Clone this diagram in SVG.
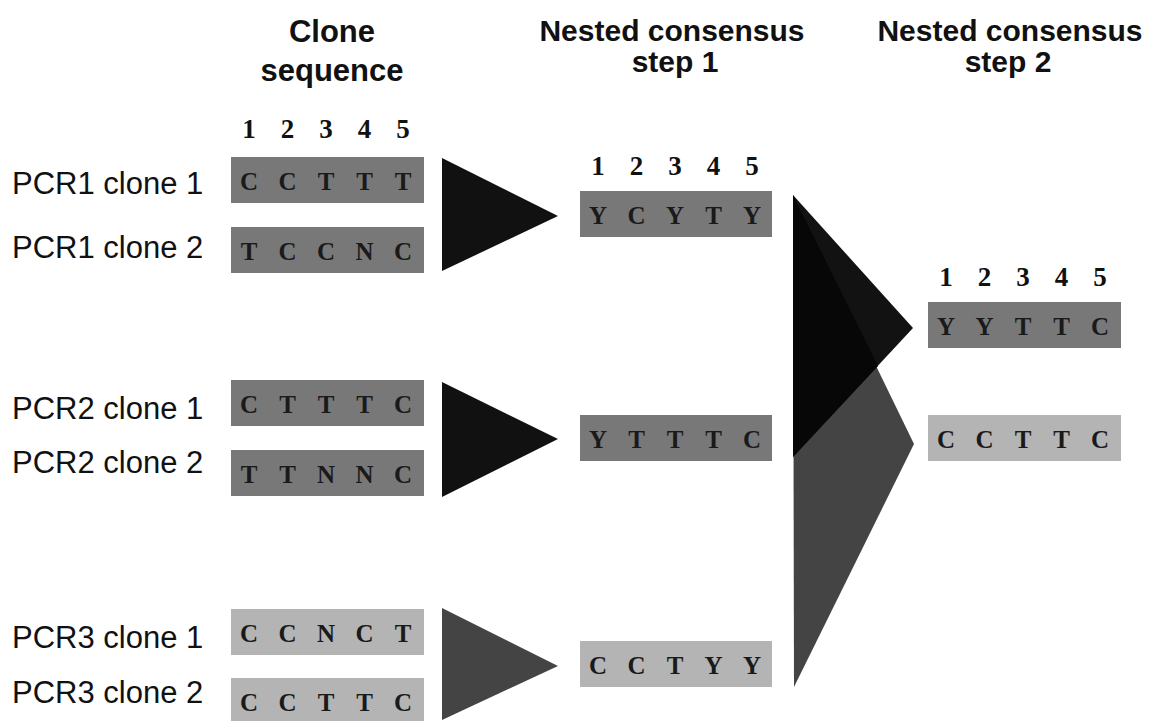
<svg xmlns="http://www.w3.org/2000/svg" width="1154" height="721" viewBox="0 0 1154 721">
<style>
.hd{font-family:"Liberation Sans",Arial,sans-serif;font-weight:bold;fill:#111;text-anchor:middle}
.lbl{font-family:"Liberation Sans",Arial,sans-serif;font-size:31px;fill:#111}
.seq{font-family:"Liberation Serif","Times New Roman",serif;font-weight:bold;font-size:25px;fill:#1a1a1a;text-anchor:middle}
.num{font-family:"Liberation Serif","Times New Roman",serif;font-weight:bold;font-size:27px;fill:#111;text-anchor:middle}
.dk{fill:#787878}
.lt{fill:#b4b4b4}
</style>
<rect width="1154" height="721" fill="#fff"/>
<g id="headers">
<text class="hd" font-size="31" x="332" y="42">Clone</text>
<text class="hd" font-size="31" x="332" y="81">sequence</text>
<text class="hd" font-size="30" x="672" y="41">Nested consensus</text>
<text class="hd" font-size="30" x="675" y="72">step 1</text>
<text class="hd" font-size="30" x="1010" y="41">Nested consensus</text>
<text class="hd" font-size="30" x="1008" y="72">step 2</text>
</g>
<g id="positions">
<text class="num" x="249 287.5 326 364.5 403" y="138">12345</text>
<text class="num" x="598 636.5 675 713.5 752" y="175">12345</text>
<text class="num" x="946 984.5 1023 1061.5 1100" y="286">12345</text>
</g>
<g id="labels">
<text class="lbl" x="12" y="194">PCR1 clone 1</text>
<text class="lbl" x="12" y="258">PCR1 clone 2</text>
<text class="lbl" x="12" y="419">PCR2 clone 1</text>
<text class="lbl" x="12" y="473">PCR2 clone 2</text>
<text class="lbl" x="12" y="648">PCR3 clone 1</text>
<text class="lbl" x="12" y="703">PCR3 clone 2</text>
</g>
<g id="connectors">
<polygon points="442,158 442,271 558,216" fill="#111"/>
<polygon points="442,382 442,497 558,439" fill="#111"/>
<polygon points="442,608 442,720 558,666" fill="#444"/>
<polygon points="793,195 914,444 794,687" fill="#444"/>
<polygon points="793,195 913,328 793,457" fill="#121212"/>
<polygon points="793,195 878,366 793,457" fill="#070707"/>
</g>
<g id="pcr1-clone1"><rect class="dk" x="231" y="157" width="193" height="46"/><text class="seq" x="249 287.5 326 364.5 403" y="190">CCTTT</text></g>
<g id="pcr1-clone2"><rect class="dk" x="231" y="227" width="193" height="46"/><text class="seq" x="249 287.5 326 364.5 403" y="260">TCCNC</text></g>
<g id="pcr2-clone1"><rect class="dk" x="231" y="380" width="193" height="46"/><text class="seq" x="249 287.5 326 364.5 403" y="413">CTTTC</text></g>
<g id="pcr2-clone2"><rect class="dk" x="231" y="450" width="193" height="46"/><text class="seq" x="249 287.5 326 364.5 403" y="483">TTNNC</text></g>
<g id="pcr3-clone1"><rect class="lt" x="231" y="609" width="193" height="46"/><text class="seq" x="249 287.5 326 364.5 403" y="642">CCNCT</text></g>
<g id="pcr3-clone2"><rect class="lt" x="231" y="678" width="193" height="46"/><text class="seq" x="249 287.5 326 364.5 403" y="711">CCTTC</text></g>
<g id="step1-pcr1"><rect class="dk" x="580" y="191" width="192" height="46"/><text class="seq" x="598 636.5 675 713.5 752" y="224">YCYTY</text></g>
<g id="step1-pcr2"><rect class="dk" x="580" y="415" width="192" height="46"/><text class="seq" x="598 636.5 675 713.5 752" y="448">YTTTC</text></g>
<g id="step1-pcr3"><rect class="lt" x="580" y="641" width="192" height="46"/><text class="seq" x="598 636.5 675 713.5 752" y="674">CCTYY</text></g>
<g id="step2-a"><rect class="dk" x="928" y="302" width="193" height="46"/><text class="seq" x="946 984.5 1023 1061.5 1100" y="335">YYTTC</text></g>
<g id="step2-b"><rect class="lt" x="928" y="415" width="193" height="46"/><text class="seq" x="946 984.5 1023 1061.5 1100" y="448">CCTTC</text></g>
</svg>
